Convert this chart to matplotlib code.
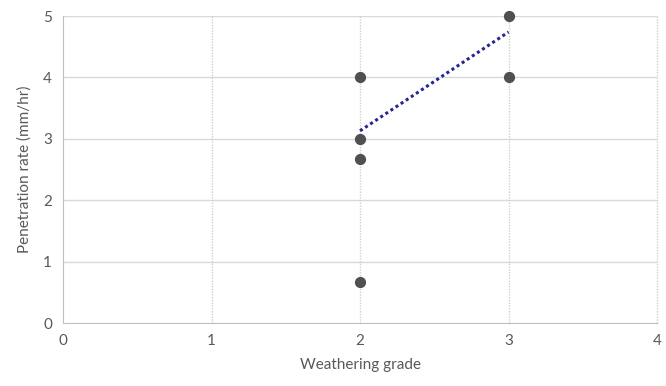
import matplotlib
matplotlib.use("Agg")
import matplotlib.pyplot as plt

# data
grade = [2, 2, 2, 2, 3, 3]
rate = [4, 3, 2.67, 0.67, 5, 4]
trend_x = [2, 3]
trend_y = [3.13, 4.74]
xticks = [0, 1, 2, 3, 4]
yticks = [0, 1, 2, 3, 4, 5]

plt.rcParams['font.family'] = ['Lato', 'DejaVu Sans']
txt = '#595959'

fig = plt.figure(figsize=(6.66, 3.86), dpi=100)
ax = fig.add_axes([0.0946, 0.1632, 0.892, 0.7953])

for y in yticks[1:]:
    ax.axhline(y, color='#d9d9d9', lw=1, zorder=1)
for x in xticks[1:]:
    ax.axvline(x, color='#d0d0d0', lw=1, ls=(0, (1, 1)), zorder=1, clip_on=False)

ax.scatter(grade, rate, s=50, color='#505050', zorder=3, clip_on=False)
ax.plot(trend_x, trend_y, color='#26268f', lw=2.2, ls=(0, (1, 1)), zorder=4)

ax.set_xlim(0, 4)
ax.set_ylim(0, 5)
ax.set_xticks(xticks)
ax.set_yticks(yticks)
ax.tick_params(length=0, labelsize=11, colors=txt, pad=8)
for s in ['top', 'right']:
    ax.spines[s].set_visible(False)
for s in ['left', 'bottom']:
    ax.spines[s].set_color('#bfbfbf')

ax.set_xlabel('Weathering grade', fontsize=11, color=txt, labelpad=7)
ax.set_ylabel('Penetration rate (mm/hr)', fontsize=11, color=txt, labelpad=8)

fig.savefig('out.png', dpi=100)
